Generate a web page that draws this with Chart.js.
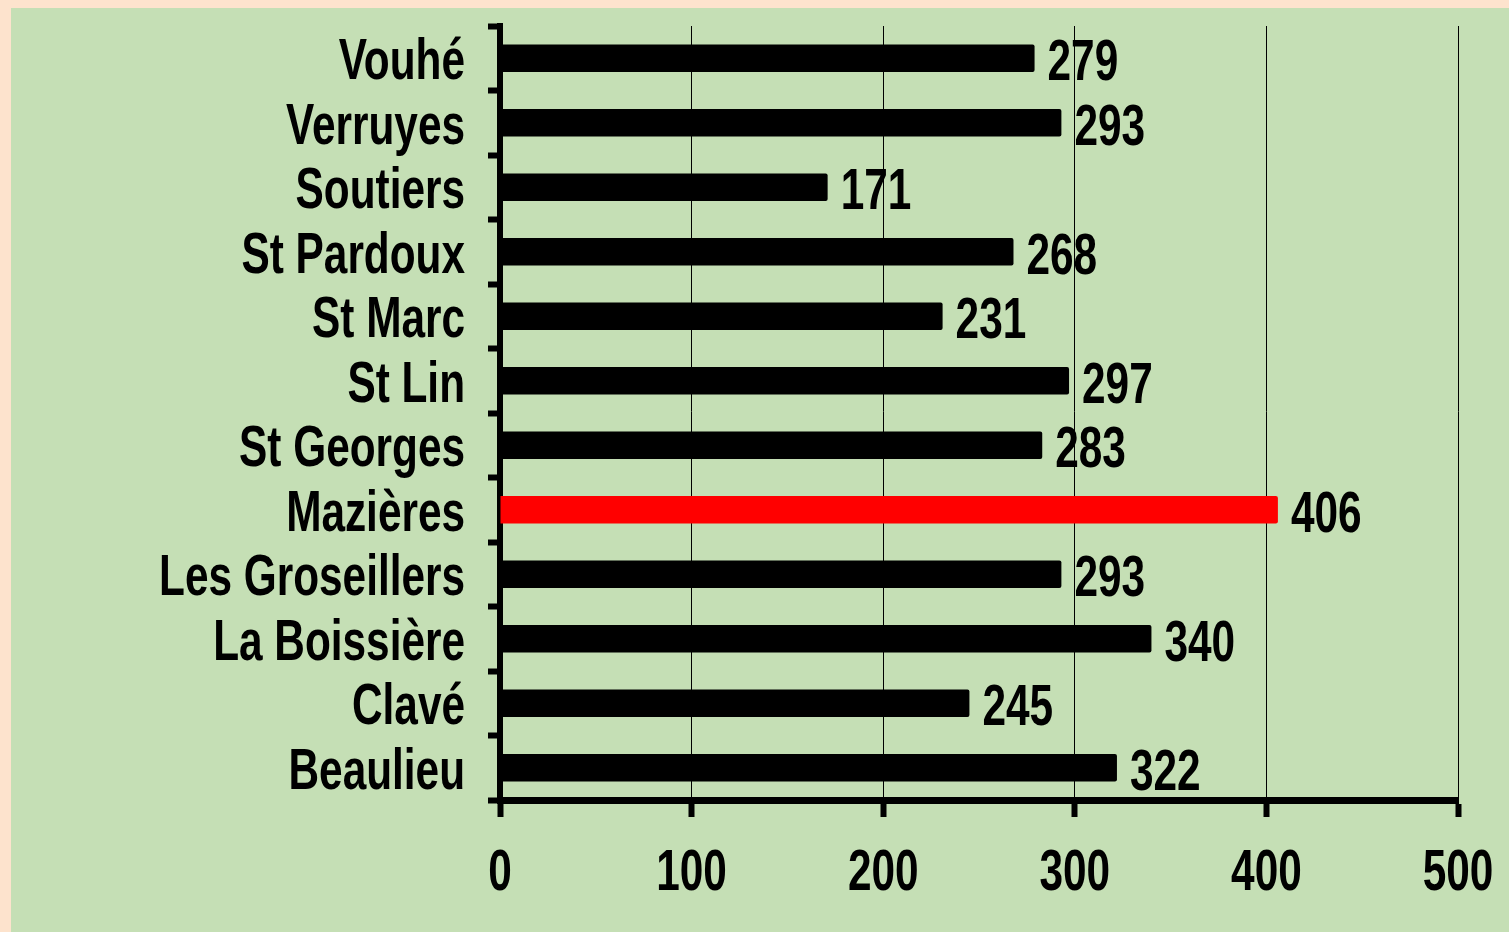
<!DOCTYPE html>
<html>
<head>
<meta charset="utf-8">
<script src="https://cdn.jsdelivr.net/npm/chart.js@4.4.0/dist/chart.umd.min.js"></script>
<style>
  body { margin: 0; background: #fde3cd; width: 1509px; height: 932px; overflow: hidden; }
  #box { position: absolute; left: 11px; top: 8px; width: 1498px; height: 924px; background: #c5dfb5; }
</style>
</head>
<body>
<div id="box"><canvas id="barChart" width="1498" height="924"></canvas></div>
<script>
const communes = ['Vouhé', 'Verruyes', 'Soutiers', 'St Pardoux', 'St Marc', 'St Lin',
    'St Georges', 'Mazières', 'Les Groseillers', 'La Boissière', 'Clavé', 'Beaulieu'];
const values = [279, 293, 171, 268, 231, 297, 283, 406, 293, 340, 245, 322];
const highlighted = 'Mazières';
const xTicks = [0, 100, 200, 300, 400, 500];

// no narrow font installed, so squeeze Liberation Sans Bold like Arial Narrow
const FONT = "bold 58px 'Liberation Sans', Arial, sans-serif";
const SQUEEZE = 0.73;

function narrowText(c, text, x, y, align) {
    c.save();
    c.translate(x, y);
    c.scale(SQUEEZE, 1);
    c.font = FONT;
    c.fillStyle = '#000';
    c.textAlign = align;
    c.textBaseline = 'alphabetic';
    c.fillText(text, 0, 0);
    c.restore();
}

document.addEventListener('DOMContentLoaded', function() {
    const ctx = document.getElementById('barChart').getContext('2d');

    // axis labels + value labels, placed from the chart's own scales
    const textLayer = {
        id: 'textLayer',
        afterDraw(chart) {
            const c = chart.ctx;
            const xs = chart.scales.x;
            const ys = chart.scales.y;
            communes.forEach((name, i) => {
                narrowText(c, name, ys.right - 35, ys.getPixelForValue(i) + 21, 'right');
            });
            xTicks.forEach(v => {
                narrowText(c, String(v), xs.getPixelForValue(v), xs.top + 90, 'center');
            });
            chart.getDatasetMeta(0).data.forEach((bar, i) => {
                narrowText(c, String(values[i]), bar.x + 13, bar.y + 22, 'left');
            });
        }
    };

    new Chart(ctx, {
        type: 'bar',
        data: {
            labels: communes,
            datasets: [{
                data: values,
                backgroundColor: communes.map(n => n === highlighted ? '#ff0000' : '#000000'),
                borderRadius: 2,
                borderSkipped: 'start',
                categoryPercentage: 1,
                barPercentage: 0.43
            }]
        },
        plugins: [textLayer],
        options: {
            indexAxis: 'y',
            responsive: false,
            animation: false,
            layout: { padding: { top: 18, right: 51, left: 0, bottom: 0 } },
            plugins: {
                legend: { display: false },
                tooltip: { enabled: false }
            },
            scales: {
                x: {
                    min: 0,
                    max: 500,
                    afterBuildTicks: scale => { scale.ticks = xTicks.map(v => ({ value: v })); },
                    afterFit: scale => { scale.height = 132; },
                    border: { color: '#000', width: 7 },
                    grid: {
                        color: '#000',
                        lineWidth: 1,
                        drawOnChartArea: true,
                        tickLength: 17,
                        tickWidth: 6,
                        tickColor: '#000'
                    },
                    ticks: { display: false }
                },
                y: {
                    afterFit: scale => { scale.width = 489; },
                    border: { color: '#000', width: 6 },
                    grid: {
                        offset: true,
                        drawOnChartArea: false,
                        tickLength: 12,
                        tickWidth: 6,
                        tickColor: '#000'
                    },
                    ticks: { display: false, autoSkip: false }
                }
            }
        }
    });
});
</script>
</body>
</html>
